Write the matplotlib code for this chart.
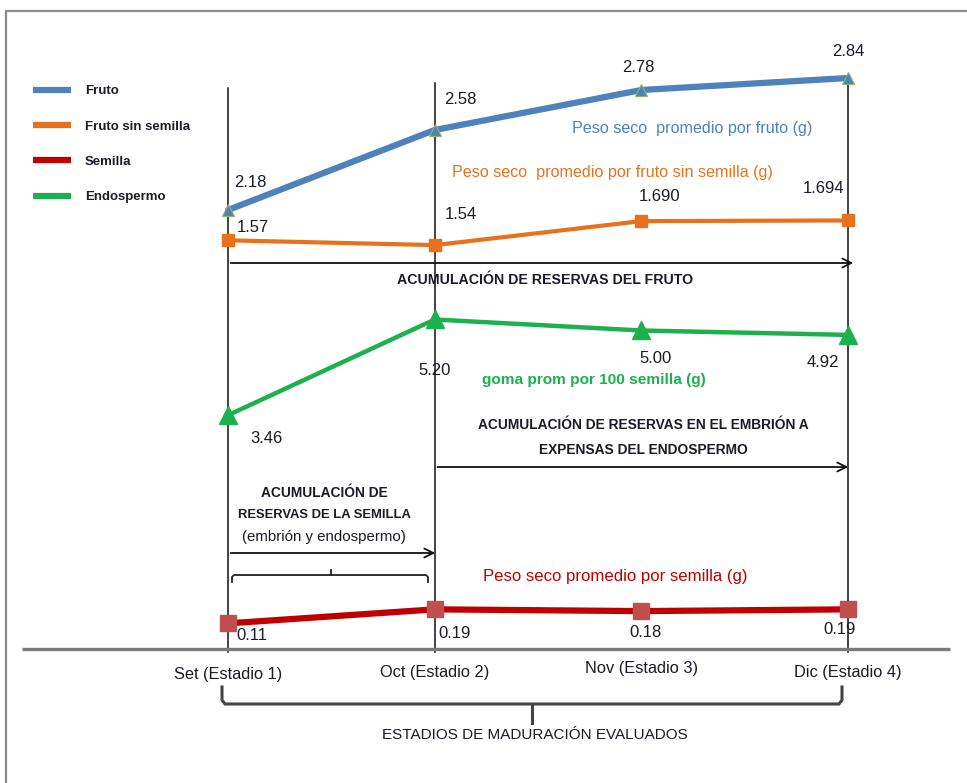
import matplotlib
matplotlib.use("Agg")
import matplotlib.pyplot as plt
from matplotlib.lines import Line2D

# ---- data -------------------------------------------------------------
stages = ["Set (Estadio 1)", "Oct (Estadio 2)", "Nov (Estadio 3)", "Dic (Estadio 4)"]
fruto = [2.18, 2.58, 2.78, 2.84]                 # peso seco por fruto (g)
fruto_sin_semilla = [1.57, 1.54, 1.690, 1.694]   # peso seco por fruto sin semilla (g)
endospermo = [3.46, 5.20, 5.00, 4.92]            # goma por 100 semillas (g)
semilla = [0.11, 0.19, 0.18, 0.19]               # peso seco por semilla (g)

fruto_lbl = ["2.18", "2.58", "2.78", "2.84"]
sin_semilla_lbl = ["1.57", "1.54", "1.690", "1.694"]
endospermo_lbl = ["3.46", "5.20", "5.00", "4.92"]
semilla_lbl = ["0.11", "0.19", "0.18", "0.19"]

# ---- style ------------------------------------------------------------
BLUE = "#4F81BD"
ORANGE = "#E8711C"
RED = "#C00000"
GREEN = "#1CB04E"
INK = "#1A1A28"
SANS = ["Liberation Sans", "DejaVu Sans"]

W, H = 967, 783
fig = plt.figure(figsize=(W / 100, H / 100), dpi=100)
fig.patch.set_facecolor("white")

# stage index -> horizontal position; first stage at 228 px, spacing 206.7 px
X0, DX = 228.0, 206.7
xlim = (-X0 / DX, (W - X0) / DX)
xs = list(range(len(stages)))

# base axes in pixel units vertically (top = 0) for the diagram decoration
base = fig.add_axes([0, 0, 1, 1])
base.set_xlim(*xlim)
base.set_ylim(H, 0)
base.axis("off")


def px(xpix):
    """horizontal pixel -> stage units"""
    return (xpix - X0) / DX


def txt(x, y, s, size, color=INK, bold=False, ha="center", **kw):
    base.text(x, y, s, ha=ha, va="center", fontsize=size, family=SANS,
              fontweight="bold" if bold else "normal", color=color, **kw)


# outer frame
base.plot([px(5), px(W)], [11, 11], color="#8a8a8a", lw=1.6, solid_capstyle="butt")
base.plot([px(6), px(6)], [11, H], color="#8a8a8a", lw=1.6, solid_capstyle="butt")

# baseline
base.plot([px(22), px(950)], [649, 649], color="#7a7a7a", lw=2.4, solid_capstyle="butt")

# stage guide lines
for i, top in [(0, 88), (1, 83), (3, 76)]:
    base.plot([i, i], [top, 652], color="#111111", lw=1.1, zorder=1)

# stage labels
for i, (lab, dy) in enumerate(zip(stages, [675, 673, 668, 673])):
    txt(i, dy, lab, 11.8)

# bottom brace and caption
brace_x = [px(222), px(222), px(225), px(839), px(842), px(842)]
brace_y = [687, 700, 704, 704, 700, 687]
base.plot(brace_x, brace_y, color="#444444", lw=2.2, solid_joinstyle="round")
base.plot([px(532), px(532)], [704, 723], color="#444444", lw=2.2)
txt(px(535), 735, "ESTADIOS DE MADURACIÓN EVALUADOS", 11.0)

# process arrows
arrow = dict(arrowstyle="->", color="#111111", lw=1.3, mutation_scale=16)
base.annotate("", xy=(px(856), 263), xytext=(0, 263), arrowprops=arrow)
base.annotate("", xy=(px(851), 467), xytext=(1, 467), arrowprops=arrow)
base.annotate("", xy=(px(438), 553), xytext=(0, 553), arrowprops=arrow)

txt(px(545), 280, "ACUMULACIÓN DE RESERVAS DEL FRUTO", 10.2, bold=True)
txt(px(643), 425, "ACUMULACIÓN DE RESERVAS EN EL EMBRIÓN A", 9.9, bold=True)
txt(px(643), 450, "EXPENSAS DEL ENDOSPERMO", 9.9, bold=True)
txt(px(324), 493, "ACUMULACIÓN DE", 9.9, bold=True)
txt(px(324), 515, "RESERVAS DE LA SEMILLA", 9.4, bold=True)
txt(px(324), 537, "(embrión y endospermo)", 10.8)

# small brace under the seed arrow
base.plot([px(232), px(232), px(234), px(426), px(428), px(428)],
          [582, 577, 575, 575, 577, 582], color="#222222", lw=1.3)
base.plot([px(331), px(331)], [575, 570], color="#222222", lw=1.3)

# series captions
txt(px(572), 128, "Peso seco  promedio por fruto (g)", 11.6, color=BLUE, ha="left")
txt(px(452), 172, "Peso seco  promedio por fruto sin semilla (g)", 11.6,
    color=ORANGE, ha="left")
txt(px(482), 380, "goma prom por 100 semilla (g)", 11.1, color=GREEN,
    bold=True, ha="left")
txt(px(483), 576, "Peso seco promedio por semilla (g)", 12.1, color=RED, ha="left")


def series_axes(px_zero, px_per_unit):
    """Overlay axes whose value scale puts 0 at px_zero (from top)."""
    a = fig.add_axes([0, 0, 1, 1], sharex=base)
    a.set_ylim((px_zero - H) / px_per_unit, px_zero / px_per_unit)
    a.patch.set_alpha(0)
    a.axis("off")
    return a


def value_labels(a, values, labels, offsets):
    for x, v, t, (ox, oy) in zip(xs, values, labels, offsets):
        a.annotate(t, (x, v), xytext=(ox, oy), textcoords="offset pixels",
                   ha="center", va="center", fontsize=12, family=SANS, color=INK)


ax_f = series_axes(646, 200)
ax_f.plot(xs, fruto, color=BLUE, lw=4.5, marker="^", ms=8,
          markerfacecolor=BLUE, markeredgecolor="#8DB85A", markeredgewidth=0.8,
          solid_capstyle="round", zorder=5)
value_labels(ax_f, fruto, fruto_lbl, [(22, 27), (26, 30), (-3, 22), (0, 26)])

ax_s = series_axes(491.5, 160)
ax_s.plot(xs, fruto_sin_semilla, color=ORANGE, lw=3, marker="s", ms=9, zorder=5)
value_labels(ax_s, fruto_sin_semilla, sin_semilla_lbl,
             [(25, 13), (26, 31), (18, 25), (-25, 32)])

ax_e = series_axes(605.5, 55)
ax_e.plot(xs, endospermo, color=GREEN, lw=3.2, marker="^", ms=13, zorder=5)
value_labels(ax_e, endospermo, endospermo_lbl,
             [(38, -23), (0, -51), (14, -28), (-25, -28)])

ax_r = series_axes(642.6, 175)
ax_r.plot(xs, semilla, color=RED, lw=4.5, marker="s", ms=11,
          markerfacecolor="#C0504D", markeredgecolor="#C0504D", zorder=5)
value_labels(ax_r, semilla, semilla_lbl,
             [(24, -12), (20, -24), (4, -21), (-9, -20)])

# legend
handles = [Line2D([], [], color=c, lw=4.5, solid_capstyle="butt")
           for c in (BLUE, ORANGE, RED, GREEN)]
fig.legend(handles, ["Fruto", "Fruto sin semilla", "Semilla", "Endospermo"],
           loc="upper left", bbox_to_anchor=(33 / W, 1 - 85 / H), frameon=False,
           borderpad=0, borderaxespad=0,
           handlelength=2.9, handletextpad=1.05, labelspacing=1.75,
           prop={"family": SANS, "size": 9.5, "weight": "bold"},
           labelcolor=INK)

fig.savefig("out.png", dpi=100)
